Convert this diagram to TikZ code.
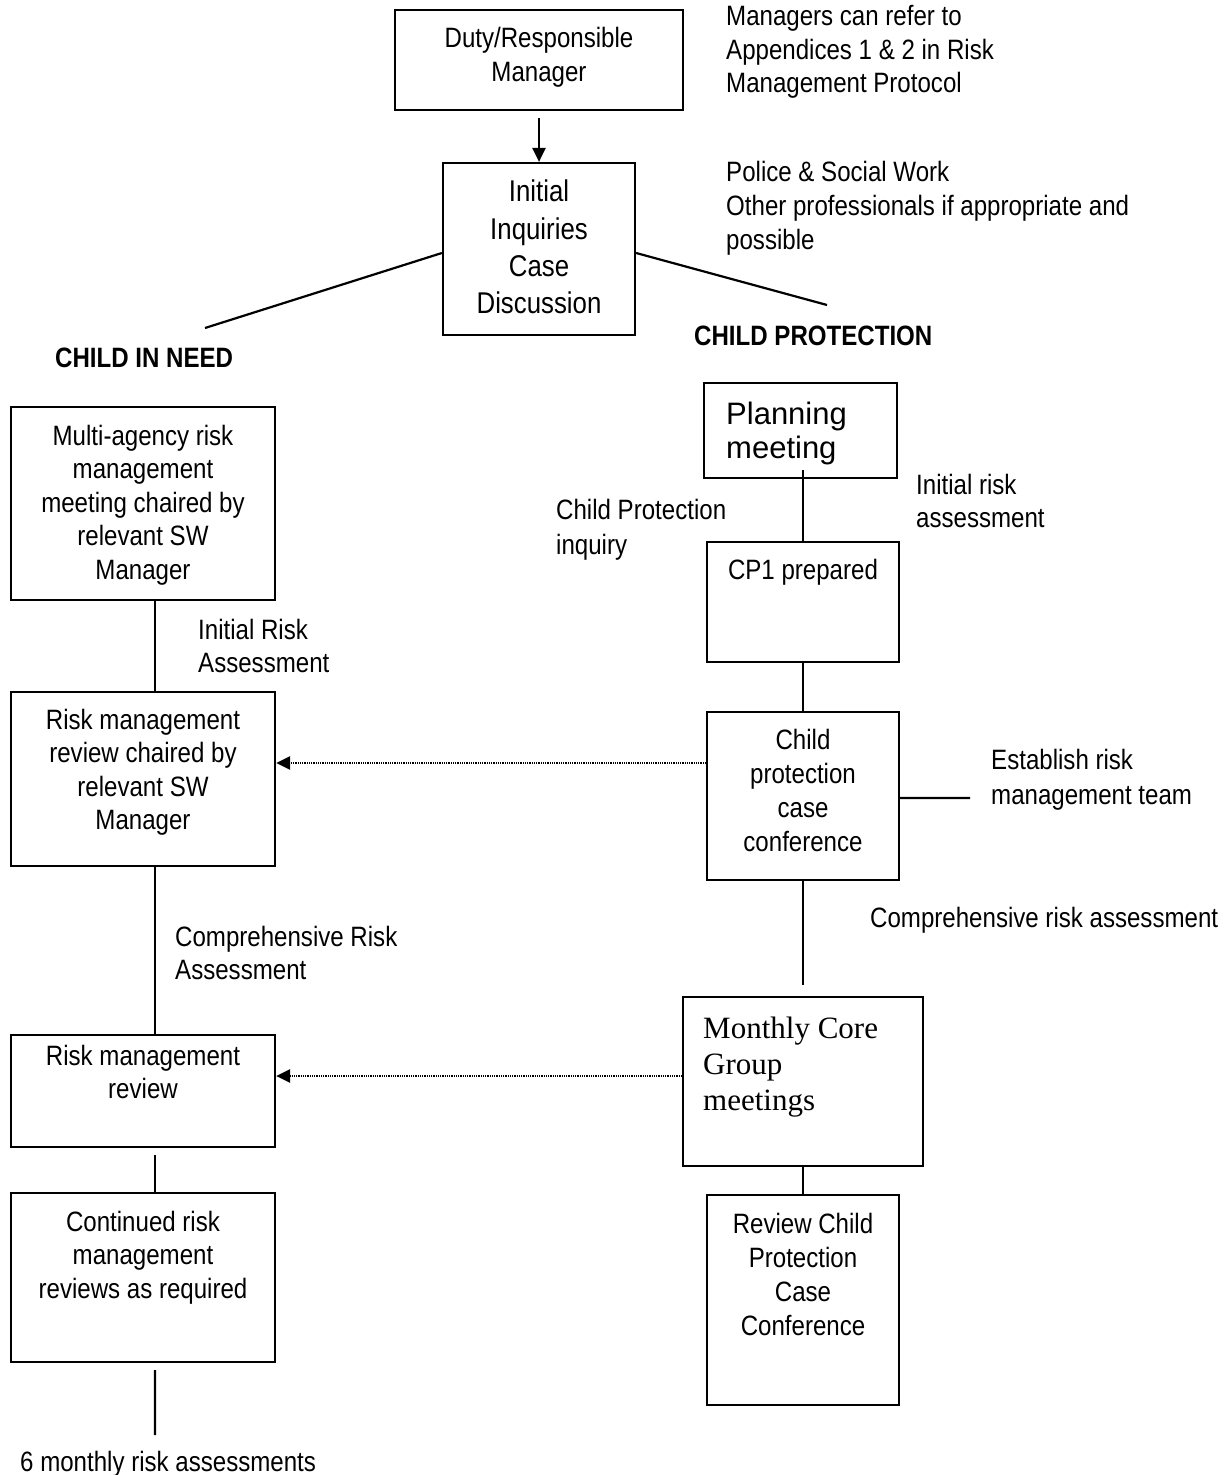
\documentclass[tikz,border=0pt]{standalone}
\usepackage{fontspec}
\setmainfont{Liberation Sans}[FakeStretch=0.86]
\newfontfamily\arialfont{Liberation Sans}
\newfontfamily\timesfont{Liberation Serif}
\usetikzlibrary{arrows.meta}
\begin{document}
\begin{tikzpicture}[x=1bp,y=-1bp,
  box/.style={draw, line width=2.2bp, inner sep=0pt, fill=none},
  txt/.style={inner sep=0pt, font=\fontsize{28bp}{33.5bp}\selectfont},
  ctxt/.style={txt, align=center, anchor=base},
  ltxt/.style={txt, align=left, anchor=base west},
  conn/.style={line width=2.2bp},
  arr/.style={line width=2.2bp, -{Triangle[length=14bp,width=13bp]}},
  dotarr/.style={line width=2.5bp, dash pattern=on 1bp off 0.8bp, -{Triangle[length=14bp,width=13bp]}}
]
\useasboundingbox (0,0) rectangle (1231,1475);

% ---- boxes ----
\node[box, minimum width=288bp, minimum height=100bp] (duty) at (539,60) {};
\node[box, minimum width=192bp, minimum height=172bp] (init) at (539,249) {};
\node[box, minimum width=264bp, minimum height=193bp] (multi) at (143,503.5) {};
\node[box, minimum width=264bp, minimum height=174bp] (rmrc) at (143,779) {};
\node[box, minimum width=193bp, minimum height=95bp] (plan) at (800.5,430.5) {};
\node[box, minimum width=192bp, minimum height=120bp] (cp1) at (803,602) {};
\node[box, minimum width=192bp, minimum height=168bp] (cpcc) at (803,796) {};
\node[box, minimum width=240bp, minimum height=169bp] (mcg) at (803,1081.5) {};
\node[box, minimum width=264bp, minimum height=112bp] (rmr) at (143,1091) {};
\node[box, minimum width=264bp, minimum height=169bp] (cont) at (143,1277.5) {};
\node[box, minimum width=192bp, minimum height=210bp] (rcpc) at (803,1300) {};

% ---- box texts (base anchor = baseline of last line) ----
\node[ctxt, font=\fontsize{28bp}{34bp}\selectfont] (dutyt) at (539,82) {Duty/Responsible\\Manager};
\node[ctxt, font=\fontsize{30bp}{37bp}\selectfont] (initt) at (539,313) {Initial\\Inquiries\\Case\\Discussion};
\node[ctxt] (multit) at (143,579) {Multi-agency risk\\management\\meeting chaired by\\relevant SW\\Manager};
\node[ctxt] (rmrct) at (143,829.5) {Risk management\\review chaired by\\relevant SW\\Manager};
\node[txt, align=left, anchor=base west, font=\arialfont\fontsize{31bp}{34bp}\selectfont] (plant) at (726,458) {Planning\\meeting};
\node[ctxt] (cp1t) at (803,579) {CP1 prepared};
\node[ctxt, font=\fontsize{28bp}{34bp}\selectfont] (cpcct) at (803,851) {Child\\protection\\case\\conference};
\node[txt, align=left, anchor=base west, font=\timesfont\fontsize{31bp}{36bp}\selectfont] (mcgt) at (703,1110) {Monthly Core\\Group\\meetings};
\node[ctxt] (rmrt) at (143,1098.5) {Risk management\\review};
\node[ctxt] (contt) at (143,1298) {Continued risk\\management\\reviews as required};
\node[ctxt, font=\fontsize{28bp}{34bp}\selectfont] (rcpct) at (803,1335) {Review Child\\Protection\\Case\\Conference};

% ---- free labels ----
\node[ltxt] (note1) at (726,93) {Managers can refer to\\Appendices 1 \& 2 in Risk\\Management Protocol};
\node[ltxt] (note2) at (726,249) {Police \& Social Work\\Other professionals if appropriate and\\possible};
\node[ltxt, font=\bfseries\fontsize{28bp}{33.5bp}\selectfont] (cin) at (55,367) {CHILD IN NEED};
\node[ltxt, font=\bfseries\fontsize{28bp}{33.5bp}\selectfont] (cprot) at (694,345) {CHILD PROTECTION};
\node[ltxt] (ira1) at (198,672.5) {Initial Risk\\Assessment};
\node[ltxt, font=\fontsize{28bp}{35bp}\selectfont] (cpinq) at (556,554) {Child Protection\\inquiry};
\node[ltxt] (ira2) at (916,527.5) {Initial risk\\assessment};
\node[ltxt, font=\fontsize{28bp}{35bp}\selectfont] (estab) at (991,804) {Establish risk\\management team};
\node[ltxt] (cra2) at (870,927) {Comprehensive risk assessment};
\node[ltxt] (cra1) at (175,979.5) {Comprehensive Risk\\Assessment};
\node[ltxt] (sixm) at (20,1471) {6 monthly risk assessments};

% ---- free ends ----
\coordinate (leftend) at (205,328);
\coordinate (rightend) at (827,305);
\coordinate (estend) at (970,798);
\coordinate (mcgstop) at (803,985);
\coordinate (sixtop) at (155,1435);

% ---- connectors ----
\draw[arr] ([yshift=-7bp]duty.south) -- (init.north);
\draw[conn] ([yshift=-4bp]init.west) -- (leftend);
\draw[conn] ([yshift=-4bp]init.east) -- (rightend);
\draw[conn] ([xshift=12bp]multi.south) -- ([xshift=12bp]rmrc.north);
\draw[conn] ([xshift=12bp]rmrc.south) -- ([xshift=12bp]rmr.north);
\draw[conn] ([xshift=12bp,yshift=-7bp]rmr.south) -- ([xshift=12bp]cont.north);
\draw[conn] ([xshift=12bp,yshift=-7bp]cont.south) -- (sixtop);
\draw[conn] ([yshift=9bp]cp1.north |- plan.south) -- (cp1.north);
\draw[conn] (cp1.south) -- (cpcc.north);
\draw[conn] ([yshift=-2bp]cpcc.east) -- (estend);
\draw[conn] (cpcc.south) -- (mcgstop);
\draw[conn] (mcg.south) -- (rcpc.north);
\draw[dotarr] (cpcc.west |- 0,763) -- (rmrc.east |- 0,763);
\draw[dotarr] (mcg.west |- 0,1076) -- (rmr.east |- 0,1076);
\end{tikzpicture}
\end{document}
